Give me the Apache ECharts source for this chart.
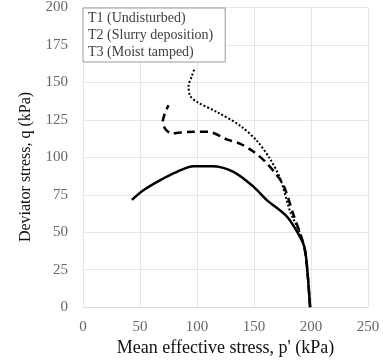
<!DOCTYPE html>
<html><head><meta charset="utf-8">
<script src="https://cdn.jsdelivr.net/npm/echarts@6/dist/echarts.min.js"></script>
<style>html,body{margin:0;padding:0;background:#fff}#c{width:383px;height:362px}</style>
</head><body><div id="c"></div>
<script>
const xTicks = [0, 50, 100, 150, 200, 250];
const yTicks = [0, 25, 50, 75, 100, 125, 150, 175, 200];
const seriesNames = ['T1 (Undisturbed)', 'T2 (Slurry deposition)', 'T3 (Moist tamped)'];
const xTitle = "Mean effective stress, p' (kPa)";
const yTitle = 'Deviator stress, q (kPa)';
const t1 = [[42.9,71.6],[53,78],[67.8,84.8],[82.4,90.3],[97,94],[113,94],[132,90.3],[149.5,80.4],[161,71.6],[178.7,60.6],[187.5,50.7],[194,40.7],[196.3,28.6],[199.2,0]];
const t2 = [[199.2,0],[196.3,28.6],[193.5,42],[184.6,61.7],[175.8,81.5],[168,90],[160,97],[150,103.5],[138,109],[126,112],[110,117],[97,117],[85,116.5],[78,116],[72.2,118.9],[70.1,124.4],[72.2,130],[75,134.8]];
const t3 = [[199.2,0],[196.3,28.6],[192,46],[181.7,63.9],[172.9,85.9],[164,99],[152.5,111],[138,121],[118,130],[100,137],[94,141],[92.6,147.6],[95.5,154.2],[97.5,158.6]];

const chart = echarts.init(document.getElementById('c'));
const font = 'Liberation Serif, Times New Roman, serif';
chart.setOption({
  animation: false,
  grid: {left: 83, right: 15, top: 7, bottom: 52},
  legend: {
    data: seriesNames, orient: 'vertical', left: 83, top: 8,
    icon: 'none', itemWidth: 0, itemHeight: 14, itemGap: 3, padding: [3, 12, 3, 0],
    borderColor: '#9a9a9a', borderWidth: 1, backgroundColor: '#fff',
    textStyle: {fontFamily: font, fontSize: 14, color: '#404040', padding: 0}
  },
  graphic: [{
    type: 'text', x: 26, y: 167, rotation: Math.PI / 2,
    style: {text: yTitle, font: '16px ' + font, fill: '#111', align: 'center', verticalAlign: 'middle'}
  }],
  xAxis: {
    type: 'value', min: 0, max: 250, interval: 50,
    name: xTitle, nameLocation: 'middle', nameGap: 31,
    nameTextStyle: {fontFamily: font, fontSize: 18, color: '#111'},
    axisLine: {show: true, lineStyle: {color: '#d9d9d9'}}, axisTick: {show: false},
    axisLabel: {fontFamily: font, fontSize: 15, color: '#666', margin: 12},
    splitLine: {show: true, lineStyle: {color: '#e6e6e6'}}
  },
  yAxis: {
    type: 'value', min: 0, max: 200, interval: 25,
    axisLine: {show: true, lineStyle: {color: '#e6e6e6'}}, axisTick: {show: false},
    axisLabel: {fontFamily: font, fontSize: 15, color: '#666', margin: 15},
    splitLine: {show: true, lineStyle: {color: '#e6e6e6'}}
  },
  series: [
    {name: seriesNames[0], type: 'line', data: t1, symbol: 'none', smooth: 0.3,
     lineStyle: {color: '#000', width: 2.5, type: 'solid'}, z: 3},
    {name: seriesNames[1], type: 'line', data: t2, symbol: 'none', smooth: 0.3,
     lineStyle: {color: '#000', width: 2.5, type: [8, 5]}, z: 2},
    {name: seriesNames[2], type: 'line', data: t3, symbol: 'none', smooth: 0.3,
     lineStyle: {color: '#000', width: 2, type: [2, 2]}, z: 1}
  ]
});
</script></body></html>
